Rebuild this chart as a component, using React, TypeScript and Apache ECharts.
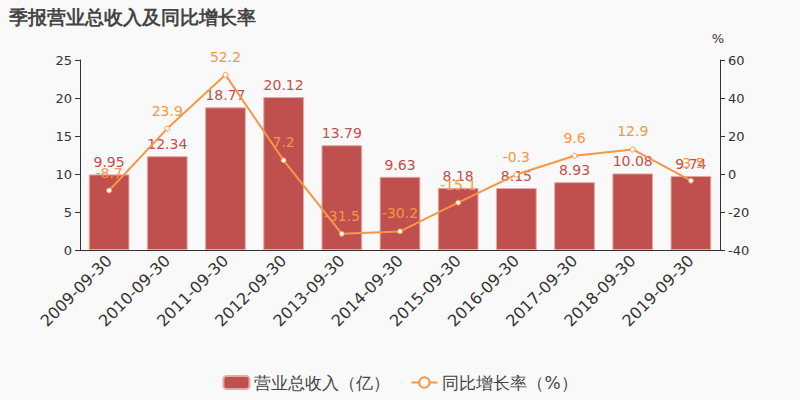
import React, { useEffect, useRef } from "react";
import * as echarts from "echarts";

const categories = ["2009-09-30","2010-09-30","2011-09-30","2012-09-30","2013-09-30","2014-09-30","2015-09-30","2016-09-30","2017-09-30","2018-09-30","2019-09-30"];
const revenue = [9.95, 12.34, 18.77, 20.12, 13.79, 9.63, 8.18, 8.15, 8.93, 10.08, 9.74];
const growth = [-8.7, 23.9, 52.2, 7.2, -31.5, -30.2, -15.1, -0.3, 9.6, 12.9, -3.5];

const BAR = "#c0504d";
const LINE = "#f79646";

export default function App() {
  const ref = useRef<HTMLDivElement>(null);
  useEffect(() => {
    if (!ref.current) return;
    const chart = echarts.init(ref.current, null, { renderer: "svg" });
    chart.setOption({
      animation: false,
      backgroundColor: "#f9f9f9",
      textStyle: { fontFamily: "DejaVu Sans" },
      title: {
        text: "季报营业总收入及同比增长率",
        left: 4,
        top: 2,
        textStyle: { fontSize: 19, fontWeight: "bold", color: "#444" },
      },
      legend: {
        bottom: 4,
        left: "center",
        itemWidth: 26,
        itemHeight: 13,
        itemGap: 20,
        textStyle: { fontSize: 17, color: "#444" },
        data: [
          { name: "营业总收入（亿）", icon: "roundRect" },
          { name: "同比增长率（%）" },
        ],
      },
      grid: { left: 80, right: 80, top: 60, bottom: 150 },
      xAxis: {
        type: "category",
        data: categories,
        axisLine: { lineStyle: { color: "#333" } },
        axisLabel: { rotate: 45, fontSize: 16, color: "#333", interval: 0 },
      },
      yAxis: [
        {
          type: "value",
          min: 0,
          max: 25,
          interval: 5,
          splitLine: { show: false },
          axisLine: { show: true, lineStyle: { color: "#333" } },
          axisTick: { show: true },
          axisLabel: { fontSize: 13, color: "#333" },
        },
        {
          type: "value",
          min: -40,
          max: 60,
          interval: 20,
          name: "%",
          nameTextStyle: { fontSize: 13, color: "#333", padding: [0, 0, 0, -4] },
          nameGap: 15,
          splitLine: { show: false },
          axisLine: { show: true, lineStyle: { color: "#333" } },
          axisTick: { show: true },
          axisLabel: { fontSize: 13, color: "#333" },
        },
      ],
      series: [
        {
          name: "营业总收入（亿）",
          type: "bar",
          data: revenue,
          barWidth: "70%",
          itemStyle: { color: BAR, borderColor: "#e3a9a7", borderWidth: 1 },
          label: { show: true, position: "top", fontSize: 14, color: BAR },
        },
        {
          name: "同比增长率（%）",
          type: "line",
          yAxisIndex: 1,
          data: growth,
          symbol: "circle",
          symbolSize: 5,
          lineStyle: { color: LINE, width: 2 },
          itemStyle: { color: "#fff", borderColor: LINE, borderWidth: 1 },
          label: { show: true, position: "top", fontSize: 14, color: LINE, distance: 8 },
        },
      ],
    });
    return () => chart.dispose();
  }, []);
  return <div ref={ref} style={{ width: 800, height: 400, position: "absolute", left: 0, top: 0 }} />;
}
